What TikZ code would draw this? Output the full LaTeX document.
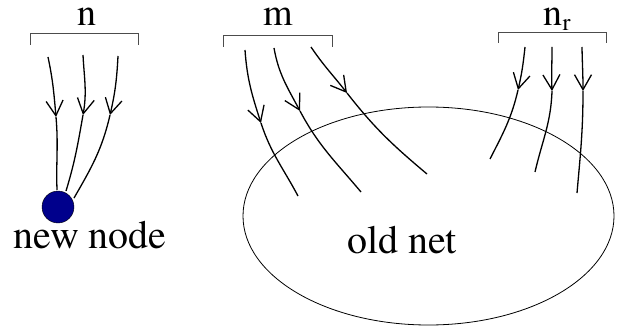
\documentclass[tikz,border=0pt]{standalone}
\usepackage{fontspec}
\newfontfamily\labelfont{texgyretermes}[Extension=.otf,UprightFont=*-regular]
\usetikzlibrary{arrows.meta,shapes.geometric}

\definecolor{nodeblue}{RGB}{0,0,140}

\tikzset{
  strand/.style={line width=1.3pt},
  tip/.style={-{Straight Barb[length=15pt,width=17pt]}},
  bracket/.style={black!70,line width=0.8pt},
  lbl/.style={inner sep=0pt,anchor=base,font=\labelfont\fontsize{40}{42}\selectfont},
  toplbl/.style={lbl,font=\labelfont\fontsize{38}{40}\selectfont},
}

\begin{document}
\begin{tikzpicture}[x=1pt,y=-1pt]
\useasboundingbox (0,0) rectangle (623,326);
% labels and brackets
\node[toplbl] (nlbl) at (87,25.5) {n};
\node[toplbl] (mlbl) at (278,25.5) {m};
\node[toplbl] (nrlbl) at (557,25.5) {n\raisebox{-5pt}{\fontsize{24}{24}\selectfont r}};
\draw [bracket] (30,45) -- (30,33) -- (138,33) -- (138,45);
\draw [bracket] (223,47) -- (223,35) -- (332,35) -- (332,47);
\draw [bracket] (498,43) -- (498,32) -- (606,32) -- (606,43);
% old net
\node[draw,ellipse,line width=0.8pt,minimum width=371pt,minimum height=218pt,inner sep=0pt] (oldnet) at (428.5,216) {};
\node[lbl] (oldtxt) at (402,253) {old net};
% new node
\node[circle,draw,fill=nodeblue,minimum size=32pt,inner sep=0pt] (newnode) at (58,207) {};
\node[lbl] (newtxt) at (90,248) {new node};
% strand points
\coordinate (n1s) at (48,57);  \coordinate (n1a) at (56,117);  \coordinate (n1e) at (57,190);
\coordinate (n2s) at (83,55);  \coordinate (n2a) at (83,115);  \coordinate (n2e) at (66,191);
\coordinate (n3s) at (118,56); \coordinate (n3a) at (110,115); \coordinate (n3e) at (74,198);
\coordinate (m1s) at (245,50); \coordinate (m1a) at (261,123); \coordinate (m1e) at (298,196);
\coordinate (m2s) at (274,48); \coordinate (m2a) at (300,111); \coordinate (m2e) at (361,192);
\coordinate (m3s) at (311,47); \coordinate (m3a) at (347,93);  \coordinate (m3e) at (427,174);
\coordinate (r1s) at (525,47); \coordinate (r1a) at (518,90);  \coordinate (r1e) at (490,159);
\coordinate (r2s) at (552,47); \coordinate (r2a) at (552,91);  \coordinate (r2e) at (535,172);
\coordinate (r3s) at (582,47); \coordinate (r3a) at (583,91);  \coordinate (r3e) at (577,193);
% strands into the new node
\draw [strand,tip] (n1s) to[out=-78,in=95] (n1a);
\draw [strand] (n1a) to[out=-85,in=92] (n1e);
\draw [strand,tip] (n2s) to[out=-87,in=80] (n2a);
\draw [strand] (n2a) to[out=-100,in=73] (n2e);
\draw [strand,tip] (n3s) to[out=-93,in=77] (n3a);
\draw [strand] (n3a) to[out=-103,in=60] (n3e);
% strands into the old net
\draw [strand,tip] (m1s) to[out=-86,in=108] (m1a);
\draw [strand] (m1a) to[out=-72,in=118] (m1e);
\draw [strand,tip] (m2s) to[out=-80,in=118] (m2a);
\draw [strand] (m2a) to[out=-62,in=130] (m2e);
\draw [strand,tip] (m3s) to[out=-56,in=128] (m3a);
\draw [strand] (m3a) to[out=-52,in=140] (m3e);
\draw [strand,tip] (r1s) to[out=-96,in=77] (r1a);
\draw [strand] (r1a) to[out=-103,in=63] (r1e);
\draw [strand,tip] (r2s) to[out=-90,in=92] (r2a);
\draw [strand] (r2a) to[out=-92,in=77] (r2e);
\draw [strand,tip] (r3s) to[out=-89,in=90] (r3a);
\draw [strand] (r3a) to[out=-90,in=85] (r3e);
\end{tikzpicture}
\end{document}
